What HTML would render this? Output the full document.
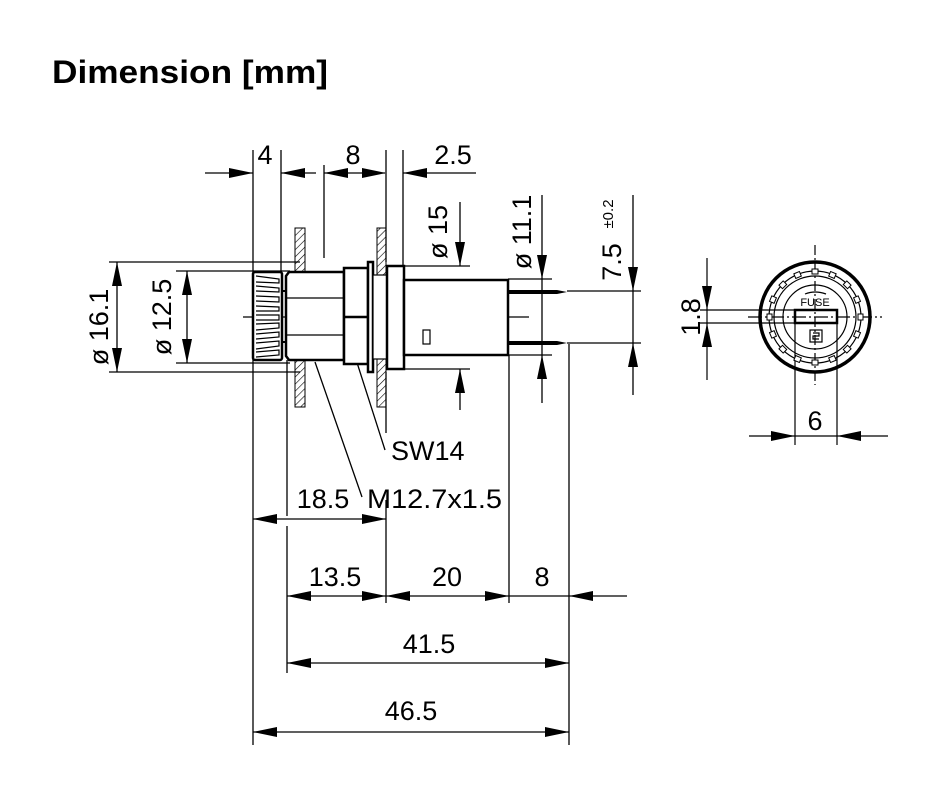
<!DOCTYPE html>
<html><head><meta charset="utf-8"><style>
html,body{margin:0;padding:0;background:#fff;}
svg{display:block;}
text{font-family:"Liberation Sans",Arial,sans-serif;fill:#000;}
</style></head><body>
<svg width="940" height="800" viewBox="0 0 940 800" xmlns="http://www.w3.org/2000/svg">
<defs>
<pattern id="hatch" width="5" height="5" patternUnits="userSpaceOnUse" patternTransform="rotate(45)">
<line x1="0" y1="0" x2="0" y2="5" stroke="#000" stroke-width="1.2"/>
</pattern>
</defs>
<text x="52" y="83" font-size="32" font-weight="bold" textLength="276" lengthAdjust="spacingAndGlyphs">Dimension [mm]</text>

<g stroke="#000" stroke-width="1.3" fill="none">
<line x1="205" y1="173" x2="253" y2="173"/>
<line x1="281" y1="173" x2="316" y2="173"/>
<line x1="324" y1="173" x2="385" y2="173"/>
<line x1="403" y1="173" x2="476" y2="173"/>
<line x1="253" y1="150" x2="253" y2="745"/>
<line x1="281" y1="150" x2="281" y2="272"/>
<line x1="324" y1="165" x2="324" y2="258"/>
<line x1="386" y1="150" x2="386" y2="262"/>
<line x1="403" y1="150" x2="403" y2="266"/>
<line x1="287" y1="360" x2="287" y2="516"/>
<line x1="287" y1="526" x2="287" y2="673"/>
<line x1="386" y1="372" x2="386" y2="433"/>
<line x1="386" y1="500" x2="386" y2="603"/>
<line x1="509" y1="355" x2="509" y2="603"/>
<line x1="569" y1="344" x2="569" y2="745"/>
<line x1="109" y1="262" x2="300" y2="262"/>
<line x1="109" y1="372" x2="300" y2="372"/>
<line x1="176" y1="271" x2="290" y2="271"/>
<line x1="176" y1="363" x2="290" y2="363"/>
<line x1="117" y1="262" x2="117" y2="372"/>
<line x1="187" y1="271" x2="187" y2="363"/>
<line x1="404" y1="266" x2="470" y2="266"/>
<line x1="404" y1="369" x2="470" y2="369"/>
<line x1="460" y1="202" x2="460" y2="266"/>
<line x1="460" y1="369" x2="460" y2="410"/>
<line x1="508" y1="279" x2="552" y2="279"/>
<line x1="508" y1="355" x2="552" y2="355"/>
<line x1="542" y1="195" x2="542" y2="403"/>
<line x1="567" y1="291" x2="641" y2="291"/>
<line x1="567" y1="343" x2="641" y2="343"/>
<line x1="633" y1="195" x2="633" y2="395"/>
<line x1="253" y1="519" x2="386" y2="519"/>
<line x1="287" y1="596" x2="627" y2="596"/>
<line x1="287" y1="663" x2="569" y2="663"/>
<line x1="253" y1="732" x2="569" y2="732"/>
<line x1="315" y1="362" x2="362" y2="497"/>
<line x1="352" y1="347" x2="385" y2="450"/>
</g>
<line x1="243" y1="317" x2="532" y2="317" stroke="#000" stroke-width="1.2" stroke-dasharray="22,4,3,4"/>

<rect x="295" y="228" width="10" height="179" fill="url(#hatch)" stroke="#000" stroke-width="1"/>
<rect x="377" y="228" width="9" height="179" fill="url(#hatch)" stroke="#000" stroke-width="1"/>

<g stroke="#000" stroke-width="2.5" fill="#fff">
<path d="M289,272 L344,272 L344,360 L289,360 L286,356 L286,276 Z"/>
<rect x="344" y="268" width="24" height="96"/>
<rect x="368" y="262" width="5" height="110"/>
<rect x="373" y="275" width="14" height="84" stroke-width="1.2"/>
<rect x="387" y="266" width="17" height="103"/>
<rect x="404" y="280" width="104" height="75"/>
<rect x="253" y="272" width="29" height="88" rx="2"/>
</g>
<g stroke="#000" stroke-width="1.2" fill="none">
<line x1="287" y1="298" x2="344" y2="298"/>
<line x1="287" y1="335" x2="344" y2="335"/>
<line x1="344" y1="317" x2="368" y2="317" stroke-width="2.5"/>
<line x1="282" y1="291" x2="286" y2="291" stroke-width="2"/>
<line x1="282" y1="342" x2="286" y2="342" stroke-width="2"/>
<rect x="423" y="330" width="7" height="14"/>
<path d="M256,276 L279,279 L279,283 L256,282"/>
<path d="M256,286 L279,288 L279,292 L256,291"/>
<path d="M256,296 L279,297 L279,302 L256,301"/>
<path d="M256,306 L279,307 L279,311 L256,311"/>
<path d="M256,315 L279,315 L279,320 L256,320"/>
<path d="M256,324 L279,323 L279,328 L256,330"/>
<path d="M256,334 L279,332 L279,337 L256,339"/>
<path d="M256,343 L279,341 L279,346 L256,349"/>
<path d="M256,352 L279,350 L279,355 L256,357"/>
</g>
<g fill="#000">
<path d="M508,290 L557,290 L567,292 L557,294 L508,294 Z"/>
<path d="M508,341 L557,341 L567,343 L557,345 L508,345 Z"/>
</g>

<g fill="#000">
<path d="M253,173 L229,168 L229,178 Z"/>
<path d="M281,173 L305,168 L305,178 Z"/>
<path d="M324,173 L348,168 L348,178 Z"/>
<path d="M386,173 L362,168 L362,178 Z"/>
<path d="M403,173 L427,168 L427,178 Z"/>
<path d="M117,262 L112,286 L122,286 Z"/>
<path d="M117,372 L112,348 L122,348 Z"/>
<path d="M187,271 L182,295 L192,295 Z"/>
<path d="M187,363 L182,339 L192,339 Z"/>
<path d="M460,266 L455,242 L465,242 Z"/>
<path d="M460,369 L455,393 L465,393 Z"/>
<path d="M542,279 L537,255 L547,255 Z"/>
<path d="M542,355 L537,379 L547,379 Z"/>
<path d="M633,291 L628,267 L638,267 Z"/>
<path d="M633,343 L628,367 L638,367 Z"/>
<path d="M253,519 L277,514 L277,524 Z"/>
<path d="M386,519 L362,514 L362,524 Z"/>
<path d="M287,596 L311,591 L311,601 Z"/>
<path d="M386,596 L362,591 L362,601 Z"/>
<path d="M386,596 L410,591 L410,601 Z"/>
<path d="M509,596 L485,591 L485,601 Z"/>
<path d="M569,596 L593,591 L593,601 Z"/>
<path d="M287,663 L311,658 L311,668 Z"/>
<path d="M569,663 L545,658 L545,668 Z"/>
<path d="M253,732 L277,727 L277,737 Z"/>
<path d="M569,732 L545,727 L545,737 Z"/>
</g>

<g font-size="27">
<text x="265" y="164" text-anchor="middle">4</text>
<text x="353" y="164" text-anchor="middle">8</text>
<text x="453" y="164" text-anchor="middle">2.5</text>
<text transform="translate(108,327) rotate(-90)" text-anchor="middle">ø 16.1</text>
<text transform="translate(171,317) rotate(-90)" text-anchor="middle">ø 12.5</text>
<text transform="translate(447,232) rotate(-90)" text-anchor="middle">ø 15</text>
<text transform="translate(531,232) rotate(-90)" text-anchor="middle">ø 11.1</text>
<text transform="translate(621,262) rotate(-90)" text-anchor="middle">7.5</text>
<text transform="translate(613,214) rotate(-90)" text-anchor="middle" font-size="15">±0.2</text>
<text x="391" y="460">SW14</text>
<text x="323" y="508" text-anchor="middle">18.5</text>
<text x="367" y="508" textLength="135" lengthAdjust="spacingAndGlyphs">M12.7x1.5</text>
<text x="335" y="586" text-anchor="middle">13.5</text>
<text x="447" y="586" text-anchor="middle">20</text>
<text x="542" y="586" text-anchor="middle">8</text>
<text x="429" y="653" text-anchor="middle">41.5</text>
<text x="411" y="720" text-anchor="middle">46.5</text>
</g>

<g stroke="#000" fill="none" stroke-width="1.2">
<line x1="815" y1="245" x2="815" y2="385" stroke-dasharray="10,3,2,3"/>
<line x1="748" y1="317" x2="882" y2="317" stroke-dasharray="14,3,2,3"/>
<circle cx="815" cy="317" r="55" stroke-width="3.5"/>
<circle cx="815" cy="317" r="46"/>
<circle cx="815" cy="317" r="41"/>
<circle cx="815" cy="317" r="32"/>
<line x1="700" y1="310" x2="795" y2="310"/>
<line x1="700" y1="323" x2="795" y2="323"/>
<line x1="707" y1="258" x2="707" y2="380"/>
<line x1="795" y1="323" x2="795" y2="445"/>
<line x1="837" y1="323" x2="837" y2="445"/>
<line x1="749" y1="436" x2="888" y2="436"/>
<rect x="810" y="330" width="12" height="12"/>
<path d="M813,333 h6 v3 h-6 v3 h6"/>
<path d="M805,294 Q815,290 826,294"/>
</g>
<rect x="795" y="310" width="42" height="13" fill="none" stroke="#000" stroke-width="2.5"/>
<g fill="#fff" stroke="#000" stroke-width="1">
<rect x="812" y="269" width="6" height="5" transform="rotate(0 815 317)"/>
<rect x="812" y="269" width="6" height="5" transform="rotate(22.5 815 317)"/>
<rect x="812" y="269" width="6" height="5" transform="rotate(45 815 317)"/>
<rect x="812" y="269" width="6" height="5" transform="rotate(67.5 815 317)"/>
<rect x="812" y="269" width="6" height="5" transform="rotate(90 815 317)"/>
<rect x="812" y="269" width="6" height="5" transform="rotate(112.5 815 317)"/>
<rect x="812" y="269" width="6" height="5" transform="rotate(135 815 317)"/>
<rect x="812" y="269" width="6" height="5" transform="rotate(157.5 815 317)"/>
<rect x="812" y="269" width="6" height="5" transform="rotate(180 815 317)"/>
<rect x="812" y="269" width="6" height="5" transform="rotate(202.5 815 317)"/>
<rect x="812" y="269" width="6" height="5" transform="rotate(225 815 317)"/>
<rect x="812" y="269" width="6" height="5" transform="rotate(247.5 815 317)"/>
<rect x="812" y="269" width="6" height="5" transform="rotate(270 815 317)"/>
<rect x="812" y="269" width="6" height="5" transform="rotate(292.5 815 317)"/>
<rect x="812" y="269" width="6" height="5" transform="rotate(315 815 317)"/>
<rect x="812" y="269" width="6" height="5" transform="rotate(337.5 815 317)"/>
</g>
<text x="815" y="306" font-size="11" text-anchor="middle">FUSE</text>
<g fill="#000">
<path d="M707,310 L702,286 L712,286 Z"/>
<path d="M707,323 L702,347 L712,347 Z"/>
<path d="M795,436 L771,431 L771,441 Z"/>
<path d="M837,436 L861,431 L861,441 Z"/>
</g>
<text transform="translate(700,317) rotate(-90)" font-size="27" text-anchor="middle">1.8</text>
<text x="815" y="430" font-size="27" text-anchor="middle">6</text>
</svg>
</body></html>
